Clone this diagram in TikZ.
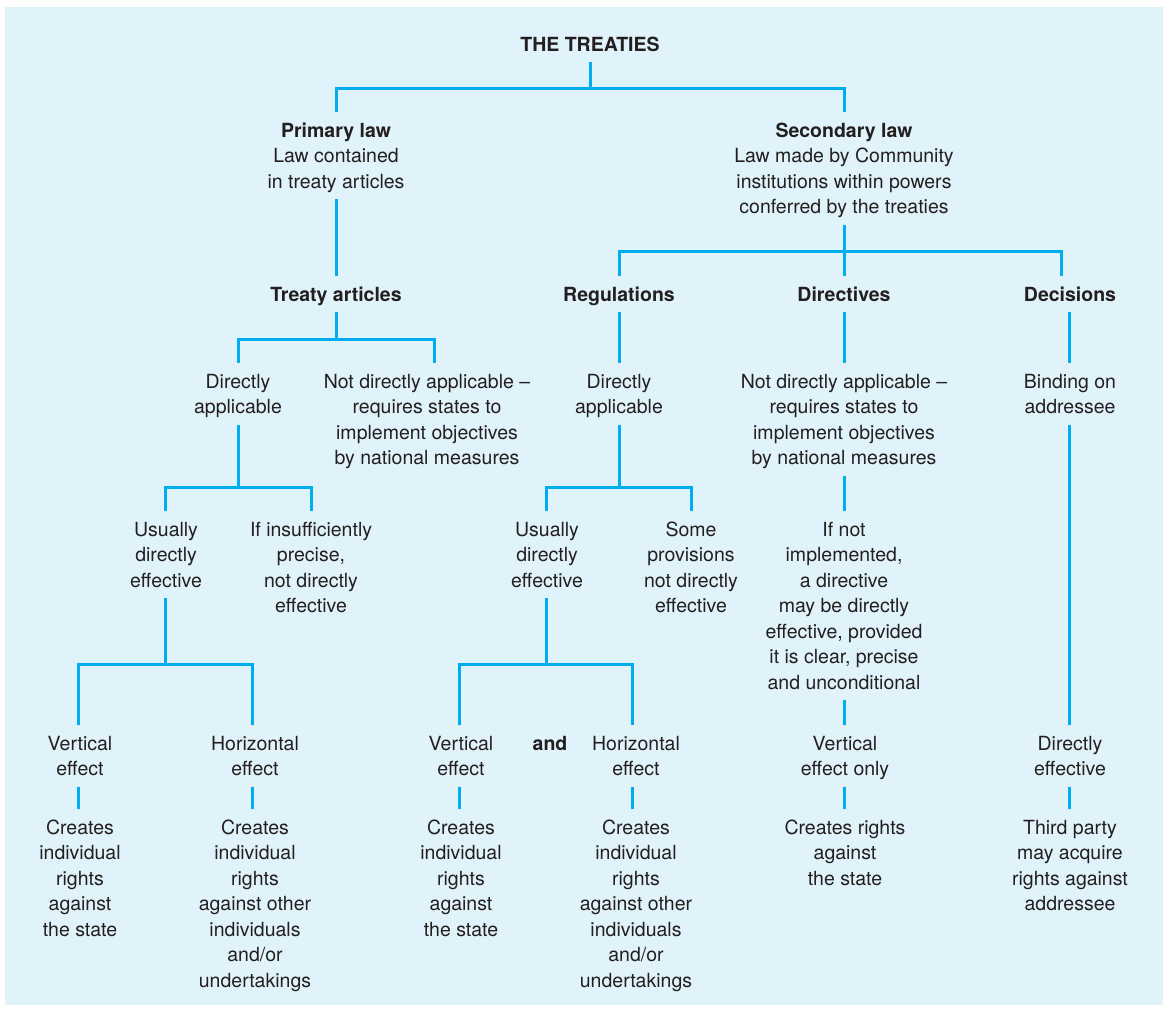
\documentclass[tikz,border=0pt]{standalone}
\usepackage{fontspec}
\setmainfont{TeX Gyre Heros}
\definecolor{bgblue}{HTML}{E0F2FA}
\definecolor{lnblue}{HTML}{00AEEF}
\definecolor{txtgray}{HTML}{231F20}
\newcommand\TopStr{\rule{0pt}{25pt}}
\begin{document}
\begin{tikzpicture}[x=1pt,y=-1pt,
  txt/.style={align=center, anchor=north, inner sep=0pt, outer sep=0pt,
    text=txtgray, font=\fontsize{19.5}{25.5}\selectfont,
    execute at end node={\rule[-11pt]{0pt}{11pt}}},
  hd/.style={txt, font=\fontsize{19.5}{25.5}\selectfont\bfseries},
  ln/.style={draw=lnblue, line width=3pt}]
\useasboundingbox (0,0) rectangle (1168,1009);
\fill[bgblue] (5,7) rectangle (1163,1005);
% row 0-1
\node[hd]  (tr)  at (590,26)  {\TopStr THE TREATIES};
\node[txt] (pl)  at (336,112) {\TopStr\textbf{Primary law}\\Law contained\\in treaty articles};
\node[txt] (sl)  at (844,112) {\TopStr\textbf{Secondary law}\\Law made by Community\\institutions within powers\\conferred by the treaties};
% row 2
\node[hd] (ta)  at (336,276)  {\TopStr Treaty articles};
\node[hd] (reg) at (619,276)  {\TopStr Regulations};
\node[hd] (dir) at (844,276)  {\TopStr Directives};
\node[hd] (dec) at (1070,276) {\TopStr Decisions};
% row 3
\node[txt] (da1)  at (238,363)  {\TopStr Directly\\applicable};
\node[txt] (nda1) at (427,363)  {\TopStr Not directly applicable --\\requires states to\\implement objectives\\by national measures};
\node[txt] (da2)  at (619,363)  {\TopStr Directly\\applicable};
\node[txt] (nda2) at (844,363)  {\TopStr Not directly applicable --\\requires states to\\implement objectives\\by national measures};
\node[txt] (bind) at (1070,363) {\TopStr Binding on\\addressee};
% row 4
\node[txt] (ue1)  at (166,511) {\TopStr Usually\\directly\\effective};
\node[txt] (ins)  at (311,511) {\TopStr If insufficiently\\precise,\\not directly\\effective};
\node[txt] (ue2)  at (547,511) {\TopStr Usually\\directly\\effective};
\node[txt] (some) at (691,511) {\TopStr Some\\provisions\\not directly\\effective};
\node[txt] (inl)  at (844,511) {\TopStr If not\\implemented,\\a directive\\may be directly\\effective, provided\\it is clear, precise\\and unconditional};
% row 5
\node[txt] (ve1) at (80,725)   {\TopStr Vertical\\effect};
\node[txt] (he1) at (255,725)  {\TopStr Horizontal\\effect};
\node[txt] (ve2) at (461,725)  {\TopStr Vertical\\effect};
\node[hd]  (and) at (550,725)  {\TopStr and};
\node[txt] (he2) at (636,725)  {\TopStr Horizontal\\effect};
\node[txt] (veo) at (845,725)  {\TopStr Vertical\\effect only};
\node[txt] (de)  at (1070,725) {\TopStr Directly\\effective};
% row 6
\node[txt] (c1) at (80,809)   {\TopStr Creates\\individual\\rights\\against\\the state};
\node[txt] (c2) at (255,809)  {\TopStr Creates\\individual\\rights\\against other\\individuals\\and/or\\undertakings};
\node[txt] (c3) at (461,809)  {\TopStr Creates\\individual\\rights\\against\\the state};
\node[txt] (c4) at (636,809)  {\TopStr Creates\\individual\\rights\\against other\\individuals\\and/or\\undertakings};
\node[txt] (c5) at (845,809)  {\TopStr Creates rights\\against\\the state};
\node[txt] (c6) at (1070,809) {\TopStr Third party\\may acquire\\rights against\\addressee};
% junctions
\coordinate (b1) at (590,88);
\coordinate (b2) at (844,251);
\coordinate (b3) at (336,339);
\coordinate (b4) at (238,487);
\coordinate (b5) at (619,487);
\coordinate (b6) at (165,664);
\coordinate (b7) at (546,664);
% connectors
\draw[ln] (tr.south) -- (b1);
\draw[ln] (b1) -| (pl.north);
\draw[ln] (b1) -| (sl.north);
\draw[ln] (pl.south) -- (ta.north);
\draw[ln] (sl.south) -- (b2);
\draw[ln] (b2) -| (reg.north);
\draw[ln] (b2) -- (dir.north);
\draw[ln] (b2) -| ([xshift=-9pt]dec.north);
\draw[ln] (ta.south) -- (b3);
\draw[ln] (b3) -| (da1.north);
\draw[ln] (b3) -| ([xshift=7pt]nda1.north);
\draw[ln] (reg.south) -- (da2.north);
\draw[ln] (dir.south) -- (nda2.north);
\draw[ln] ([xshift=-1pt]dec.south) -- ([xshift=-1pt]bind.north);
\draw[ln] (da1.south) -- (b4);
\draw[ln] (b4) -| ([xshift=-1pt]ue1.north);
\draw[ln] (b4) -| (ins.north);
\draw[ln] (da2.south) -- (b5);
\draw[ln] (b5) -| ([xshift=-1pt]ue2.north);
\draw[ln] (b5) -| (some.north);
\draw[ln] (nda2.south) -- (inl.north);
\draw[ln] ([xshift=-1pt]bind.south) -- ([xshift=-1pt]de.north);
\draw[ln] ([xshift=-1pt]ue1.south) -- (b6);
\draw[ln] (b6) -| ([xshift=-2pt]ve1.north);
\draw[ln] (b6) -| ([xshift=-3pt]he1.north);
\draw[ln] ([xshift=-1pt]ue2.south) -- (b7);
\draw[ln] (b7) -| ([xshift=-2pt]ve2.north);
\draw[ln] (b7) -| ([xshift=-4pt]he2.north);
\draw[ln] (inl.south) -- ([xshift=-1pt]veo.north);
\draw[ln] ([xshift=-2pt]ve1.south) -- ([xshift=-2pt]c1.north);
\draw[ln] ([xshift=-3pt]he1.south) -- ([xshift=-3pt]c2.north);
\draw[ln] ([xshift=-2pt]ve2.south) -- ([xshift=-2pt]c3.north);
\draw[ln] ([xshift=-4pt]he2.south) -- ([xshift=-4pt]c4.north);
\draw[ln] ([xshift=-1pt]veo.south) -- ([xshift=-1pt]c5.north);
\draw[ln] ([xshift=-1pt]de.south) -- ([xshift=-1pt]c6.north);
\end{tikzpicture}
\end{document}
